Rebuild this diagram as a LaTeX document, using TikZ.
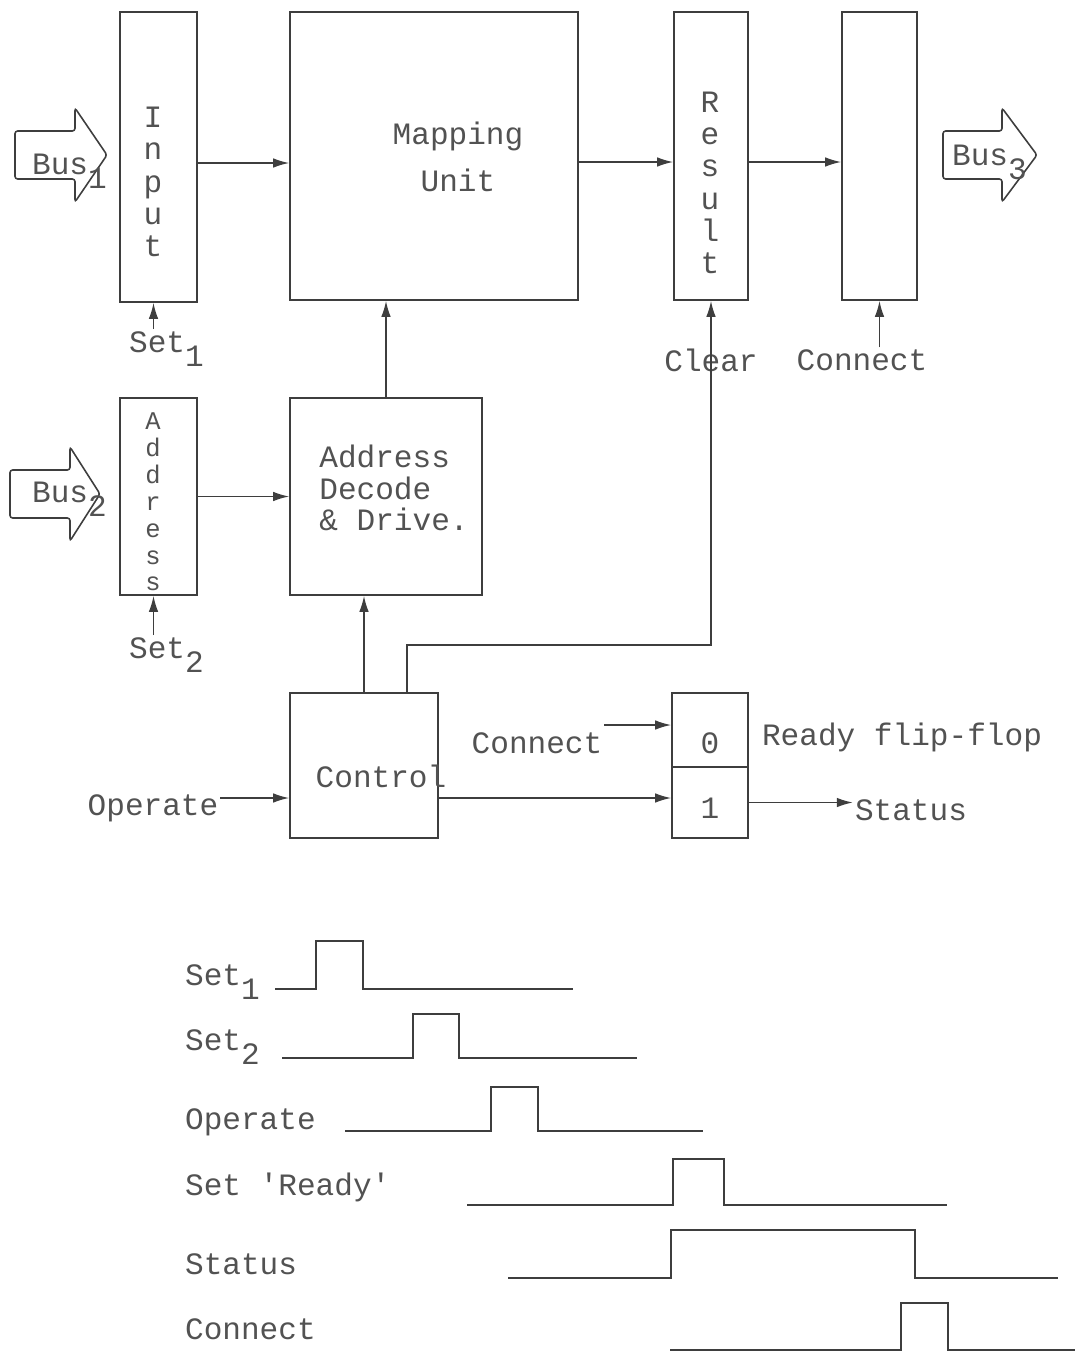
\documentclass[tikz,border=0pt]{standalone}
\usepackage{fontspec}
\setmonofont{Liberation Mono}
\usepackage{tikz}
\usetikzlibrary{arrows.meta}
\definecolor{ScanInk}{RGB}{62,62,62}
\definecolor{ScanText}{RGB}{82,82,82}
\newcommand{\lowsub}[1]{\raisebox{-8.5pt}{#1}}

\begin{document}
\begin{tikzpicture}[
  x=0.02cm, y=-0.02cm,
  every node/.style={font=\ttfamily\fontsize{17.7}{21}\selectfont, text=ScanText, inner sep=1pt},
  unit/.style={draw=ScanInk, line width=0.9pt, inner sep=0pt},
  sig/.style={-{Latex[length=3.2mm,width=1.9mm]}, line width=0.9pt, draw=ScanInk},
  wire/.style={line width=0.9pt, draw=ScanInk},
  busshape/.style={line width=0.9pt, draw=ScanInk, rounded corners=1.5pt},
  vert/.style={align=center, font=\ttfamily\fontsize{17.7}{18.4}\selectfont}
]
\useasboundingbox (0,0) rectangle (1086,1353);

% registers and units
\node[unit, minimum width=1.54cm, minimum height=5.8cm] (input) at (158.5,157) {};
\node[unit, minimum width=5.76cm, minimum height=5.76cm] (mapping) at (434,156) {};
\node[unit, minimum width=1.48cm, minimum height=5.76cm] (result) at (711,156) {};
\node[unit, minimum width=1.5cm, minimum height=5.76cm] (outbuf) at (879.5,156) {};
\node[unit, minimum width=1.54cm, minimum height=3.94cm] (address) at (158.5,496.5) {};
\node[unit, minimum width=3.84cm, minimum height=3.94cm] (decode) at (386,496.5) {};
\node[unit, minimum width=2.96cm, minimum height=2.9cm] (control) at (364,765.5) {};
\node[unit, minimum width=1.52cm, minimum height=1.48cm] (ffzero) at (710,730) {};
\node[unit, minimum width=1.52cm, minimum height=1.42cm] (ffone) at (710,802.5) {};

% texts of the units
\node[vert] (inputtxt) at (153,182) {I\\n\\p\\u\\t};
\node[align=center] (maptxt) at (458,157) {Mapping\\[6pt]Unit};
\node[vert] (resulttxt) at (710,183) {R\\e\\s\\u\\l\\t};
\node[vert, font=\ttfamily\fontsize{14.5}{15.3}\selectfont] (addrtxt) at (153,502) {A\\d\\d\\r\\e\\s\\s};
\node[align=left, font=\ttfamily\fontsize{17.7}{17.9}\selectfont] (decodetxt) at (394,488) {Address\\Decode\\\& Drive.};
\node (controltxt) at (381,776) {Control};
\node (zerotxt) at (710,743) {0};
\node (onetxt) at (710,808) {1};
\node (readytxt) at (902,737) {Ready flip-flop};

% buses
\foreach \bx/\hx/\tx/\cy in {15/75/107/155, 10/70/100/494, 943/1002/1037/155}
  \draw[busshape] (\bx,\cy-24) -- (\hx,\cy-24) -- (\hx,\cy-47) -- (\tx,\cy)
    -- (\hx,\cy+47) -- (\hx,\cy+24) -- (\bx,\cy+24) -- cycle;
\node[anchor=base west] (busone) at (30,174) {Bus\lowsub{1}};
\node[anchor=base west] (bustwo) at (30,502) {Bus\lowsub{2}};
\node[anchor=base west] (busthree) at (950,165) {Bus\lowsub{3}};

% control inputs
\node[anchor=base west] (setone) at (127,352) {Set\lowsub{1}};
\node[anchor=base west] (settwo) at (127,658) {Set\lowsub{2}};
\node (clear) at (711,360) {Clear};
\node (connout) at (862,360) {Connect};
\node (operate) at (153,808) {Operate};
\node (connready) at (537,743) {Connect};
\node (status) at (911,810) {Status};

% data paths
\draw[sig] ([yshift=-1.2mm]input.east) -- ([yshift=-1.2mm]input.east -| mapping.west);
\draw[sig] ([yshift=-1.2mm]mapping.east) -- ([yshift=-1.2mm]mapping.east -| result.west);
\draw[sig] ([yshift=-1.2mm]result.east) -- ([yshift=-1.2mm]result.east -| outbuf.west);
\draw[sig] (address.east) -- (address.east -| decode.west);
\draw[sig] (decode.north) -- (decode.north |- mapping.south);
\draw[sig] (control.north) -- (control.north |- decode.south);
\coordinate (clrbend) at (407,645);
\draw[sig] (control.north -| clrbend) -- (clrbend) -| (result.south);

% strobes
\draw[sig] ([xshift=-1mm]input.south |- setone.north) -- ([xshift=-1mm]input.south);
\draw[sig] ([xshift=-1mm]address.south |- settwo.north) -- ([xshift=-1mm]address.south);
\draw[sig] (outbuf.south |- connout.north) -- (outbuf.south);
\draw[sig] ([yshift=-6.5mm]control.west -| operate.east) -- ([yshift=-6.5mm]control.west);
\draw[sig] ([yshift=-6.5mm]control.east) -- ([yshift=-6.5mm]control.east -| ffone.west);
\draw[sig] ([yshift=1mm]ffzero.west -| connready.east) -- ([yshift=1mm]ffzero.west);
\draw[sig] (ffone.east) -- (ffone.east -| status.west);

% timing diagram
\node[anchor=base west] (tset1) at (183,985) {Set\lowsub{1}};
\node[anchor=base west] (tset2) at (183,1050) {Set\lowsub{2}};
\node[anchor=base west] (toperate) at (183,1129) {Operate};
\node[anchor=base west] (tready) at (183,1195) {Set 'Ready'};
\node[anchor=base west] (tstatus) at (183,1274) {Status};
\node[anchor=base west] (tconnect) at (183,1339) {Connect};
\foreach \s/\r/\f/\e/\lo/\hi in {275/316/363/573/989/941, 282/413/459/637/1058/1014,
    345/491/538/703/1131/1087, 467/673/724/947/1205/1159,
    508/671/915/1058/1278/1230, 670/901/948/1075/1350/1303}
  \draw[wire] (\s,\lo) -| (\r,\hi) -| (\f,\lo) -- (\e,\lo);
\end{tikzpicture}
\end{document}
